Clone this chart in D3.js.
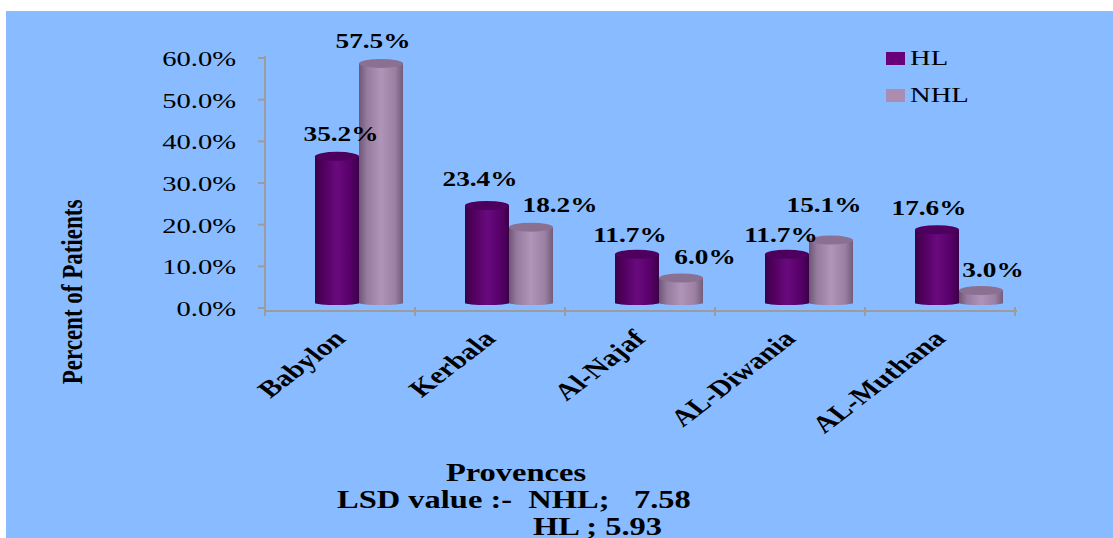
<!DOCTYPE html>
<html><head><meta charset="utf-8">
<script src="https://cdn.jsdelivr.net/npm/d3@7"></script>
<style>html,body{margin:0;padding:0;background:#fff;overflow:hidden}svg{display:block}text{white-space:pre}</style>
</head><body>
<svg id="chart" width="1113" height="538"></svg>
<script>
// ---- data ----
const categories = ["Babylon", "Kerbala", "Al-Najaf", "AL-Diwania", "AL-Muthana"];
const seriesNames = ["HL", "NHL"];
const hlValues  = [35.2, 23.4, 11.7, 11.7, 17.6];
const nhlValues = [57.5, 18.2, 6.0, 15.1, 3.0];
const yTickValues = [0, 10, 20, 30, 40, 50, 60];
const xTitle = "Provences";
const yTitle = "Percent of Patients";
const noteLine1 = "LSD value :-  NHL;   7.58";
const noteLine2 = "HL ; 5.93";

// ---- layout (label nudges, not data) ----
const labelNudge = {
  HL:  [[4,0],[-7,-5],[-7,3],[-6,3],[-8,0]],
  NHL: [[-8,0],[29,0],[24,1],[-7,-13],[12,1]]
};
const SX = 1.3; // horizontal stretch of all text
const serif = "'Liberation Serif','Times New Roman',serif";

const svg = d3.select("#chart");
svg.append("rect").attr("x",6).attr("y",11).attr("width",1107).attr("height",527).attr("fill","#88bbff");

const defs = svg.append("defs");
function grad(id, stops){
  const g = defs.append("linearGradient").attr("id",id).attr("x1",0).attr("x2",1).attr("y1",0).attr("y2",0);
  stops.forEach(s=>g.append("stop").attr("offset",s[0]).attr("stop-color",s[1]));
}
grad("gHL", [[0,"#3a0046"],[0.2,"#52005f"],[0.5,"#690a7e"],[0.8,"#58006a"],[1,"#3c0048"]]);
grad("gNHL",[[0,"#6e5776"],[0.18,"#957b9e"],[0.5,"#b094b9"],[0.82,"#9a80a3"],[1,"#735c7b"]]);
const fills = {HL:"url(#gHL)", NHL:"url(#gNHL)"};
const capFill = {HL:"#4e005e", NHL:"#8a7192"};
const legendFill = {HL:"#6a0078", NHL:"#ab8cb3"};

const y = d3.scaleLinear().domain([0,60]).range([308,58]);
const x = d3.scaleBand().domain(categories).range([265,1015]);
const x1 = d3.scaleBand().domain(seriesNames).range([0,88]);

const axisColor = "#9c9c9c";
// y axis
svg.append("line").attr("x1",265).attr("x2",265).attr("y1",y(60)-2).attr("y2",316)
  .attr("stroke",axisColor).attr("stroke-width",2);
yTickValues.forEach(v=>{
  svg.append("line").attr("x1",258).attr("x2",265).attr("y1",y(v)).attr("y2",y(v))
    .attr("stroke",axisColor).attr("stroke-width",2);
  svg.append("text").attr("transform",`translate(236,${y(v)+8}) scale(${SX},1)`)
    .attr("text-anchor","end").attr("font-family",serif).attr("font-size",22).attr("fill","#000")
    .text(v.toFixed(1)+"%");
});
// x axis
svg.append("line").attr("x1",265).attr("x2",x.range()[1]+2).attr("y1",311).attr("y2",311)
  .attr("stroke",axisColor).attr("stroke-width",2);
categories.concat([null]).forEach((c,i)=>{
  const xv = c===null ? x.range()[1] : x(c);
  svg.append("line").attr("x1",xv).attr("x2",xv).attr("y1",307).attr("y2",316)
    .attr("stroke",axisColor).attr("stroke-width",2);
});

// bars (cylinders)
const floorY = 303;
const data = [];
categories.forEach((c,i)=>{
  data.push({cat:c, s:"HL", v:hlValues[i], i});
  data.push({cat:c, s:"NHL", v:nhlValues[i], i});
});
const bw = x1.bandwidth();
const g = svg.append("g");
data.forEach(d=>{
  const bx = x(d.cat) + 50 + x1(d.s);
  const topC = y(d.v) - 5;
  g.append("ellipse").attr("cx",bx+bw/2).attr("cy",floorY).attr("rx",bw/2).attr("ry",2).attr("fill",fills[d.s]);
  g.append("rect").attr("x",bx).attr("y",topC).attr("width",bw).attr("height",floorY-topC).attr("fill",fills[d.s]);
  g.append("ellipse").attr("cx",bx+bw/2).attr("cy",topC).attr("rx",bw/2).attr("ry",4.5).attr("fill",capFill[d.s]);
});

// value labels
data.forEach(d=>{
  const bx = x(d.cat) + 50 + x1(d.s) + bw/2;
  const nd = labelNudge[d.s][d.i];
  const base = y(d.v) - 20;
  svg.append("text").attr("transform",`translate(${bx+nd[0]},${base+nd[1]}) scale(${SX},1)`)
    .attr("text-anchor","middle").attr("font-family",serif).attr("font-weight","bold").attr("font-size",21)
    .attr("fill","#000").text(d.v.toFixed(1)+"%");
});

// category labels
categories.forEach(c=>{
  svg.append("text").attr("transform",`translate(${x(c)+x.bandwidth()/2+7},340) scale(${SX},1) rotate(-45)`)
    .attr("text-anchor","end").attr("font-family",serif).attr("font-weight","bold").attr("font-size",23.5)
    .attr("fill","#000").text(c);
});

// y title
svg.append("text").attr("transform",`translate(82,292) scale(${SX},1) rotate(-90)`)
  .attr("text-anchor","middle").attr("font-family",serif).attr("font-weight","bold").attr("font-size",23)
  .attr("fill","#000").text(yTitle);

// legend
seriesNames.forEach((s,i)=>{
  const ly = 52 + i*37;
  svg.append("rect").attr("x",886).attr("y",ly).attr("width",19).attr("height",13).attr("fill",legendFill[s]);
  svg.append("text").attr("transform",`translate(910,${ly+13}) scale(${SX},1)`)
    .attr("font-family",serif).attr("font-size",22).attr("fill","#000").text(s);
});

// bottom titles
svg.append("text").attr("transform",`translate(516,481) scale(${SX},1)`).attr("text-anchor","middle")
  .attr("font-family",serif).attr("font-weight","bold").attr("font-size",25).attr("fill","#000").text(xTitle);
svg.append("text").attr("transform",`translate(337,508) scale(${SX},1)`)
  .attr("font-family",serif).attr("font-weight","bold").attr("font-size",25).attr("fill","#000").text(noteLine1);
svg.append("text").attr("transform",`translate(533,535) scale(${SX},1)`)
  .attr("font-family",serif).attr("font-weight","bold").attr("font-size",25).attr("fill","#000").text(noteLine2);
</script>
</body></html>
